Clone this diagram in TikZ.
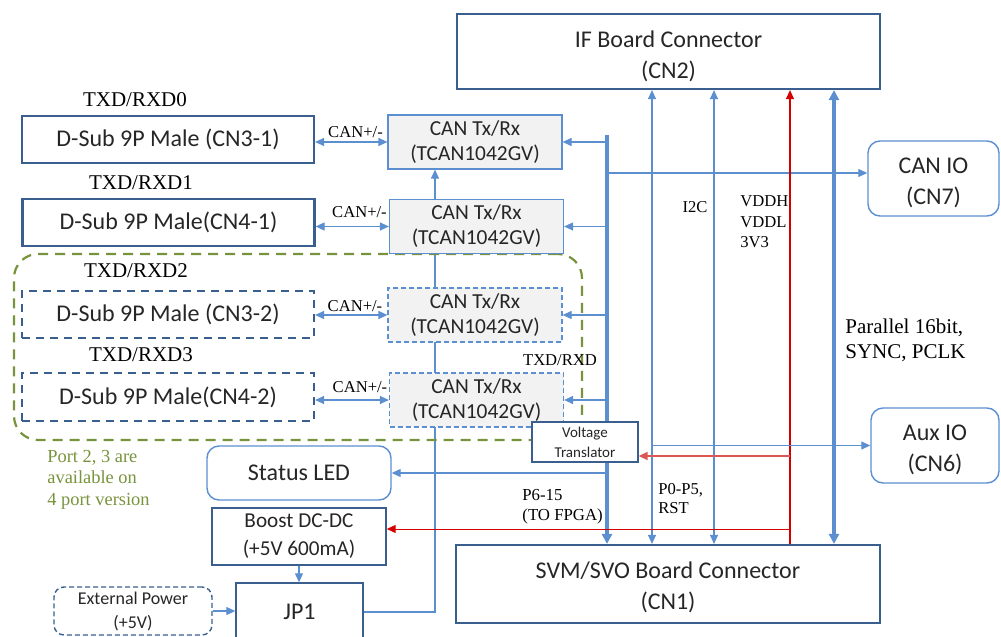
\documentclass[tikz,border=0pt]{standalone}
\usepackage{fontspec}
\setmainfont{Liberation Serif}
\newfontfamily\calib{Carlito}
\usetikzlibrary{arrows.meta,backgrounds}
\definecolor{bdark}{HTML}{3A5F8F}
\definecolor{lblue}{HTML}{5B8FD0}
\definecolor{cgray}{HTML}{F2F2F2}
\definecolor{rline}{HTML}{D40000}
\definecolor{rline2}{HTML}{DD5555}
\definecolor{ggreen}{HTML}{77933C}
\definecolor{txt}{HTML}{262626}
\newcommand\tallstrut[1]{\rule{0pt}{#1}}
\begin{document}
\begin{tikzpicture}[x=0.5pt,y=-0.5pt,
  tip/.tip={Triangle[length=4.5pt,width=4pt]},
  bigtip/.tip={Triangle[length=5pt,width=5pt]},
  fmain/.style={font=\calib\fontsize{12}{15.5}\selectfont},
  dbox/.style={draw=bdark,line width=1.1pt,inner sep=0pt,fmain,align=center,text=txt},
  dashbox/.style={draw=bdark,line width=1.1pt,dash pattern=on 4pt off 3pt,inner sep=0pt,fmain,align=center,text=txt},
  canbox/.style={draw=lblue,fill=cgray,line width=0.6pt,inner sep=0pt,align=center,text=txt,
     font=\calib\fontsize{10.7}{12.5}\selectfont,minimum width=87pt,minimum height=27pt},
  rbox/.style={draw=lblue,fill=white,rounded corners=6pt,line width=0.7pt,inner sep=0pt,align=center,text=txt,fmain},
  pbox/.style={draw=bdark,fill=white,line width=0.7pt,inner sep=0pt,align=center,text=txt},
  lab/.style={inner sep=0pt,text=black,font=\fontsize{10.5}{12.5}\selectfont},
  slab/.style={inner sep=0pt,text=black,font=\fontsize{8.3}{10.2}\selectfont,align=left},
  bl/.style={draw=lblue,line width=0.6pt},
  arr/.style={bl,-tip},
  darr/.style={bl,tip-tip},
  thick bus/.style={draw=lblue,line width=1.9pt}
]
\useasboundingbox (0,0) rectangle (1001,637);

% green region
\node[draw=ggreen,line width=1.1pt,dash pattern=on 5pt off 3.5pt,rounded corners=12pt,
  minimum width=284pt,minimum height=93pt,inner sep=0pt] (grp) at (298,347) {};

% connectors' big boxes
\node[dbox,minimum width=211.5pt,minimum height=37.5pt] (cn2) at (668.5,51.5) {\tallstrut{13pt}IF Board Connector\\(CN2)};
\node[dbox,minimum width=212pt,minimum height=39pt] (cn1) at (668,584) {\tallstrut{12pt}SVM/SVO Board Connector\\(CN1)};

% D-Sub
\node[dbox,minimum width=146pt,minimum height=23.5pt] (d31) at (168,139.5) {D-Sub 9P Male (CN3-1)};
\node[dbox,minimum width=146pt,minimum height=23.5pt] (d41) at (168.5,222.5) {D-Sub 9P Male(CN4-1)};
\node[dashbox,minimum width=146pt,minimum height=23.5pt] (d32) at (168,314.5) {D-Sub 9P Male (CN3-2)};
\node[dashbox,minimum width=146pt,minimum height=24pt] (d42) at (168,397) {D-Sub 9P Male(CN4-2)};

\node[lab] (t0) at (135,100) {TXD/RXD0};
\node[lab] (t1) at (141,183) {TXD/RXD1};
\node[lab] (t2) at (136,271) {TXD/RXD2};
\node[lab] (t3) at (141,355) {TXD/RXD3};

% CAN transceivers
\node[canbox] (can1) at (475,142) {CAN Tx/Rx\\(TCAN1042GV)};
\node[canbox] (can2) at (476.5,226.5) {CAN Tx/Rx\\(TCAN1042GV)};
\node[canbox,dash pattern=on 2.5pt off 1.5pt] (can3) at (475,315) {CAN Tx/Rx\\(TCAN1042GV)};
\node[canbox,dash pattern=on 2.5pt off 1.5pt] (can4) at (476.5,400) {CAN Tx/Rx\\(TCAN1042GV)};

\node[slab] (c1) at (355.5,132) {CAN+/-};
\node[slab] (c2) at (359.5,212) {CAN+/-};
\node[slab] (c3) at (355,306) {CAN+/-};
\node[slab] (c4) at (360,387) {CAN+/-};

% other blocks
\node[pbox,font=\calib\fontsize{7.5}{10}\selectfont,minimum width=53pt,minimum height=20pt] (vt) at (585,442) {Voltage\\Translator};
\node[rbox,minimum width=65.5pt,minimum height=37.5pt] (canio) at (933.5,178.5) {\tallstrut{12.5pt}CAN IO\\(CN7)};
\node[rbox,minimum width=64pt,minimum height=37.5pt] (auxio) at (935,445.5) {\tallstrut{12pt}Aux IO\\(CN6)};
\node[rbox,minimum width=92pt,minimum height=27pt] (led) at (299,473) {Status LED};
\node[pbox,font=\calib\fontsize{10.6}{14}\selectfont,minimum width=87pt,minimum height=28.5pt] (boost) at (299,536.5) {Boost DC-DC\\(+5V 600mA)};
\node[pbox,fmain,minimum width=63.5pt,minimum height=29pt] (jp1) at (299.5,612) {JP1};
\node[draw=bdark,line width=0.7pt,dash pattern=on 2.5pt off 1.5pt,rounded corners=5pt,inner sep=0pt,align=center,text=txt,
  font=\calib\fontsize{9}{12}\selectfont,minimum width=79pt,minimum height=24pt] (ext) at (133,611) {External Power\\(+5V)};

% labels
\node[slab] (lt) at (560,360) {TXD/RXD};
\node[slab] (li2c) at (695,207) {I2C};
\node[slab,anchor=west,font=\fontsize{8.3}{10.3}\selectfont] (lvdd) at (740,222) {VDDH\\VDDL\\3V3};
\node[lab,anchor=west,align=left] (lpar) at (845,340.5) {Parallel 16bit,\\SYNC, PCLK};
\node[slab,anchor=west,font=\fontsize{8.4}{10}\selectfont] (lp6) at (522,507) {P6-15\\(TO FPGA)};
\node[slab,anchor=west,font=\fontsize{8.3}{9.6}\selectfont] (lp0) at (658,498.5) {P0-P5,\\RST};
\node[inner sep=0pt,anchor=west,align=left,text=ggreen,font=\fontsize{9.2}{10.75}\selectfont] (lport) at (47,479.5) {Port 2, 3 are\\available on\\4 port version};

\coordinate (bt) at (607,135);
\coordinate (xa) at (652,300);
\coordinate (xb) at (714,300);
\coordinate (xr) at (790,300);
\coordinate (xp) at (834,300);
\coordinate (xc) at (435,300);

\begin{scope}[on background layer]
  % CAN vertical chain from JP1
  \draw[arr] (jp1.east) -| (xc |- can1.south);
  % bus
  \draw[thick bus,-bigtip] (bt) -- (bt |- cn1.north);
\end{scope}

% CAN+/- arrows
\draw[darr] (can1.west) -- (can1.west -| d31.east);
\draw[darr] (can2.west) -- (can2.west -| d41.east);
\draw[darr] (can3.west) -- (can3.west -| d32.east);
\draw[darr] (can4.west) -- (can4.west -| d42.east);

% bus branches
\draw[arr] (bt |- can1.east) -- (can1.east);
\draw[arr] (bt |- can2.east) -- (can2.east);
\draw[arr] (bt |- can3.east) -- (can3.east);
\draw[arr] (bt |- can4.east) -- (can4.east);
\draw[arr] (bt |- canio.west) ++(0,-5.5) -- ([yshift=2.75pt]canio.west);
\draw[arr] (bt |- led.east) -- (led.east);

% vertical signals between CN1 and CN2
\draw[darr] (xa |- cn1.north) -- (xa |- cn2.south);
\draw[darr] (xb |- cn1.north) -- (xb |- cn2.south);
\draw[draw=rline,line width=0.6pt,-tip] (xr |- cn1.north) -- (xr |- cn2.south);
\draw[thick bus,bigtip-bigtip] (xp |- cn1.north) -- (xp |- cn2.south);
\draw[arr] (xa |- auxio.west) -- (auxio.west);

% red power branches
\draw[draw=rline2,line width=1pt,-tip] (xr |- vt.east) ++(0,14) -- ([yshift=-7pt]vt.east);
\draw[draw=rline,line width=0.5pt,-tip] (xr |- boost.east) ++(0,-7.5) -- ([yshift=3.75pt]boost.east);

% power path
\draw[arr] (boost.south) -- (boost.south |- jp1.north);
\draw[arr] (ext.east) -- (ext.east -| jp1.west);
\end{tikzpicture}
\end{document}
